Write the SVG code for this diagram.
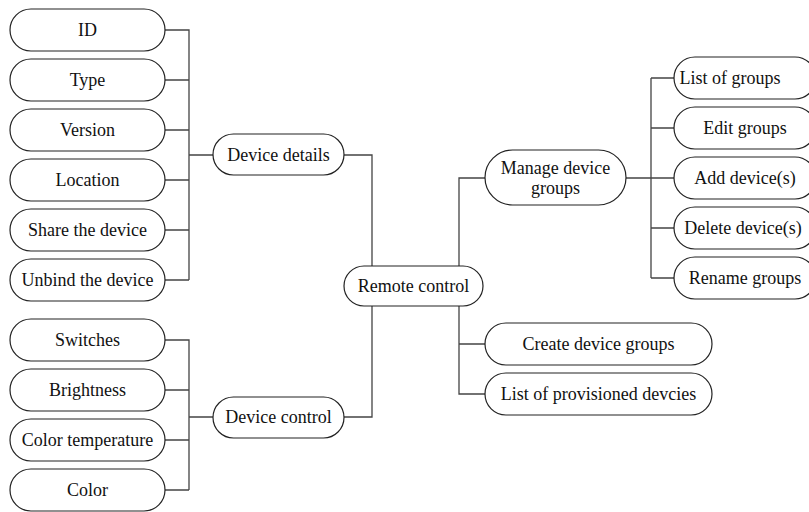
<svg xmlns="http://www.w3.org/2000/svg" width="809" height="512" viewBox="0 0 809 512">
<style>
.n rect{fill:#fff;stroke:#222;stroke-width:1.2}
.n text{font-family:"Liberation Serif","Times New Roman",serif;font-size:18px;fill:#111;text-anchor:middle}
#edges path{fill:none;stroke:#444;stroke-width:1.3}
</style>
<rect width="809" height="512" fill="#fff"/>
<g id="edges">
<path d="M165 30H189V280M165 80H189M165 130H189M165 180H189M165 230H189M165 280H189M189 155H213"/>
<path d="M344 155H372V266"/>
<path d="M165 340H189V490M165 390H189M165 440H189M165 490H189M189 417H213"/>
<path d="M344 417H372V306"/>
<path d="M459 266V178H485"/>
<path d="M626 178H651M651 78V278M651 78H674M651 128H674M651 178H674M651 228H674M651 278H674"/>
<path d="M459 306V394H485M459 344H485"/>
</g>
<g id="n-id" class="n"><rect x="10" y="9" width="155" height="42" rx="21"/><text x="87.5" y="36">ID</text></g>
<g id="n-type" class="n"><rect x="10" y="59" width="155" height="42" rx="21"/><text x="87.5" y="86">Type</text></g>
<g id="n-version" class="n"><rect x="10" y="109" width="155" height="42" rx="21"/><text x="87.5" y="136">Version</text></g>
<g id="n-location" class="n"><rect x="10" y="159" width="155" height="42" rx="21"/><text x="87.5" y="186">Location</text></g>
<g id="n-share" class="n"><rect x="10" y="209" width="155" height="42" rx="21"/><text x="87.5" y="236">Share the device</text></g>
<g id="n-unbind" class="n"><rect x="10" y="259" width="155" height="42" rx="21"/><text x="87.5" y="286">Unbind the device</text></g>
<g id="n-switches" class="n"><rect x="10" y="319" width="155" height="42" rx="21"/><text x="87.5" y="346">Switches</text></g>
<g id="n-brightness" class="n"><rect x="10" y="369" width="155" height="42" rx="21"/><text x="87.5" y="396">Brightness</text></g>
<g id="n-colortemp" class="n"><rect x="10" y="419" width="155" height="42" rx="21"/><text x="87.5" y="446">Color temperature</text></g>
<g id="n-color" class="n"><rect x="10" y="469" width="155" height="42" rx="21"/><text x="87.5" y="496">Color</text></g>
<g id="n-details" class="n"><rect x="213" y="134" width="131" height="41" rx="20.5"/><text x="278.5" y="161">Device details</text></g>
<g id="n-control" class="n"><rect x="213" y="397" width="131" height="41" rx="20.5"/><text x="278.5" y="423">Device control</text></g>
<g id="n-remote" class="n"><rect x="344" y="266" width="139" height="40" rx="20"/><text x="413.5" y="292">Remote control</text></g>
<g id="n-manage" class="n"><rect x="485" y="150" width="141" height="55" rx="27.5"/><text x="555.5" y="174">Manage device</text><text x="555.5" y="194">groups</text></g>
<g id="n-listgroups" class="n"><rect x="674" y="57" width="142" height="42" rx="21"/><text x="730" y="84">List of groups</text></g>
<g id="n-edit" class="n"><rect x="674" y="107" width="142" height="42" rx="21"/><text x="745" y="134">Edit groups</text></g>
<g id="n-add" class="n"><rect x="674" y="157" width="142" height="42" rx="21"/><text x="745" y="184">Add device(s)</text></g>
<g id="n-delete" class="n"><rect x="674" y="207" width="142" height="42" rx="21"/><text x="743" y="234">Delete device(s)</text></g>
<g id="n-rename" class="n"><rect x="674" y="257" width="142" height="42" rx="21"/><text x="745" y="284">Rename groups</text></g>
<g id="n-create" class="n"><rect x="485" y="323" width="227" height="42" rx="21"/><text x="598.5" y="350">Create device groups</text></g>
<g id="n-provisioned" class="n"><rect x="485" y="373" width="227" height="42" rx="21"/><text x="598.5" y="400">List of provisioned devcies</text></g>
</svg>
